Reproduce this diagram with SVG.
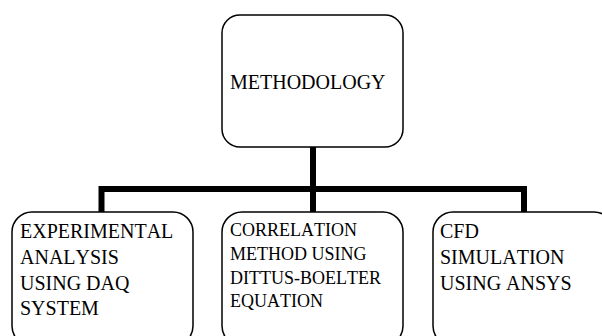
<svg xmlns="http://www.w3.org/2000/svg" width="602" height="336" viewBox="0 0 602 336">
<style>
.box{fill:#fff;stroke:#000;stroke-width:1.5}
.t{font-family:'Liberation Serif','Times New Roman','DejaVu Serif',serif;font-size:20px;fill:#000;font-kerning:none}
.s{font-size:18px}
.c{fill:none;stroke:#000;stroke-width:6;stroke-linecap:butt;stroke-linejoin:miter}
</style>
<rect width="602" height="336" fill="#fff"/>
<g id="connectors">
<path class="c" d="M313 147 V212"/>
<path class="c" d="M101.5 212 V189 H524 V212"/>
</g>
<g id="methodology">
<rect class="box" x="222" y="15" width="181" height="132" rx="18"/>
<text class="t" font-family="Liberation Serif, serif" x="230" y="89">METHODOLOGY</text>
</g>
<g id="experimental">
<rect class="box" x="12" y="212" width="181" height="134" rx="20"/>
<text class="t" font-family="Liberation Serif, serif" x="20" y="238">EXPERIMENTAL</text>
<text class="t" font-family="Liberation Serif, serif" x="20" y="264">ANALYSIS</text>
<text class="t" font-family="Liberation Serif, serif" x="20" y="290">USING DAQ</text>
<text class="t" font-family="Liberation Serif, serif" x="20" y="315">SYSTEM</text>
</g>
<g id="correlation">
<rect class="box" x="222" y="212" width="181" height="134" rx="20"/>
<text class="t s" font-family="Liberation Serif, serif" x="230" y="236">CORRELATION</text>
<text class="t s" font-family="Liberation Serif, serif" x="230" y="260">METHOD USING</text>
<text class="t s" font-family="Liberation Serif, serif" x="230" y="284">DITTUS-BOELTER</text>
<text class="t s" font-family="Liberation Serif, serif" x="230" y="307">EQUATION</text>
</g>
<g id="cfd">
<rect class="box" x="433" y="212" width="181" height="134" rx="20"/>
<text class="t" font-family="Liberation Serif, serif" x="440" y="238">CFD</text>
<text class="t" font-family="Liberation Serif, serif" x="440" y="264">SIMULATION</text>
<text class="t" font-family="Liberation Serif, serif" x="440" y="290">USING ANSYS</text>
</g>
</svg>
